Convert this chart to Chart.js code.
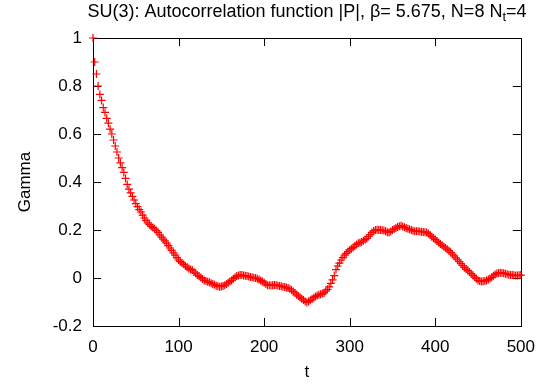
<!DOCTYPE html>
<html>
<head>
<meta charset="utf-8">
<script src="https://cdn.jsdelivr.net/npm/chart.js@4"></script>
<style>
  html, body { margin: 0; padding: 0; background: #fff; }
  #wrap { width: 546px; height: 385px; }
</style>
</head>
<body>
<div id="wrap"><canvas id="chart" width="546" height="385"></canvas></div>
<script>
// lag t (every 2nd value)
const tValues = [
  0, 2, 4, 6, 8, 10, 12, 14, 16, 18,
  20, 22, 24, 26, 28, 30, 32, 34, 36, 38,
  40, 42, 44, 46, 48, 50, 52, 54, 56, 58,
  60, 62, 64, 66, 68, 70, 72, 74, 76, 78,
  80, 82, 84, 86, 88, 90, 92, 94, 96, 98,
  100, 102, 104, 106, 108, 110, 112, 114, 116, 118,
  120, 122, 124, 126, 128, 130, 132, 134, 136, 138,
  140, 142, 144, 146, 148, 150, 152, 154, 156, 158,
  160, 162, 164, 166, 168, 170, 172, 174, 176, 178,
  180, 182, 184, 186, 188, 190, 192, 194, 196, 198,
  200, 202, 204, 206, 208, 210, 212, 214, 216, 218,
  220, 222, 224, 226, 228, 230, 232, 234, 236, 238,
  240, 242, 244, 246, 248, 250, 252, 254, 256, 258,
  260, 262, 264, 266, 268, 270, 272, 274, 276, 278,
  280, 282, 284, 286, 288, 290, 292, 294, 296, 298,
  300, 302, 304, 306, 308, 310, 312, 314, 316, 318,
  320, 322, 324, 326, 328, 330, 332, 334, 336, 338,
  340, 342, 344, 346, 348, 350, 352, 354, 356, 358,
  360, 362, 364, 366, 368, 370, 372, 374, 376, 378,
  380, 382, 384, 386, 388, 390, 392, 394, 396, 398,
  400, 402, 404, 406, 408, 410, 412, 414, 416, 418,
  420, 422, 424, 426, 428, 430, 432, 434, 436, 438,
  440, 442, 444, 446, 448, 450, 452, 454, 456, 458,
  460, 462, 464, 466, 468, 470, 472, 474, 476, 478,
  480, 482, 484, 486, 488, 490, 492, 494, 496, 498,
  500
];
const gamma = [
  1.00, 0.90, 0.85, 0.80, 0.765, 0.74, 0.71, 0.69, 0.665, 0.645,
  0.62, 0.60, 0.575, 0.55, 0.525, 0.50, 0.48, 0.46, 0.44, 0.415,
  0.39, 0.37, 0.355, 0.34, 0.325, 0.31, 0.297, 0.285, 0.275, 0.262,
  0.25, 0.24, 0.23, 0.222, 0.215, 0.21, 0.205, 0.198, 0.19, 0.18,
  0.17, 0.162, 0.155, 0.145, 0.135, 0.125, 0.115, 0.105, 0.095, 0.085,
  0.075, 0.068, 0.063, 0.057, 0.05, 0.045, 0.04, 0.035, 0.033, 0.025,
  0.02, 0.012, 0.007, 0.002, -0.004, -0.01, -0.013, -0.016, -0.018, -0.022,
  -0.025, -0.028, -0.032, -0.034, -0.036, -0.035, -0.033, -0.03, -0.025, -0.02,
  -0.015, -0.01, -0.003, 0.003, 0.008, 0.01, 0.013, 0.012, 0.01, 0.009,
  0.008, 0.006, 0.004, 0.003, 0.001, 0.0, -0.003, -0.006, -0.01, -0.015,
  -0.02, -0.025, -0.03, -0.03, -0.031, -0.03, -0.029, -0.03, -0.031, -0.033,
  -0.034, -0.036, -0.038, -0.04, -0.042, -0.045, -0.05, -0.056, -0.062, -0.07,
  -0.075, -0.08, -0.086, -0.092, -0.098, -0.102, -0.098, -0.093, -0.088, -0.082,
  -0.077, -0.073, -0.07, -0.068, -0.065, -0.062, -0.055, -0.047, -0.037, -0.022,
  -0.008, 0.01, 0.035, 0.05, 0.062, 0.075, 0.085, 0.095, 0.103, 0.11,
  0.117, 0.122, 0.127, 0.133, 0.14, 0.145, 0.147, 0.15, 0.155, 0.16,
  0.165, 0.173, 0.181, 0.19, 0.196, 0.20, 0.201, 0.20, 0.20, 0.199,
  0.198, 0.195, 0.191, 0.19, 0.194, 0.20, 0.204, 0.208, 0.212, 0.216,
  0.218, 0.215, 0.211, 0.208, 0.205, 0.203, 0.20, 0.197, 0.195, 0.195,
  0.195, 0.194, 0.193, 0.192, 0.191, 0.19, 0.185, 0.179, 0.172, 0.166,
  0.16, 0.154, 0.148, 0.142, 0.136, 0.13, 0.125, 0.12, 0.114, 0.107,
  0.10, 0.092, 0.084, 0.076, 0.068, 0.06, 0.052, 0.044, 0.037, 0.031,
  0.025, 0.018, 0.011, 0.004, -0.003, -0.01, -0.013, -0.015, -0.014, -0.012,
  -0.01, -0.006, -0.002, 0.003, 0.009, 0.015, 0.019, 0.021, 0.022, 0.021,
  0.02, 0.018, 0.016, 0.014, 0.013, 0.012, 0.011, 0.01, 0.01, 0.011,
  0.012
];
const xTicks = [0, 100, 200, 300, 400, 500];
const yTicks = [-0.2, 0, 0.2, 0.4, 0.6, 0.8, 1];

const FONT = 'Liberation Sans, Arial, sans-serif';
const FS = 17;

// gnuplot-like frame: box plus inward ticks on all four sides
const frame = {
  id: 'frame',
  beforeDatasetsDraw(chart) {
    const { ctx, chartArea: a, scales: { x, y } } = chart;
    ctx.save();
    ctx.strokeStyle = '#000';
    ctx.lineWidth = 1;
    ctx.beginPath();
    xTicks.forEach(v => {
      const px = Math.round(x.getPixelForValue(v)) + 0.5;
      ctx.moveTo(px, a.bottom); ctx.lineTo(px, a.bottom - 8);
      ctx.moveTo(px, a.top); ctx.lineTo(px, a.top + 8);
    });
    yTicks.forEach(v => {
      const py = Math.round(y.getPixelForValue(v)) + 0.5;
      ctx.moveTo(a.left, py); ctx.lineTo(a.left + 8, py);
      ctx.moveTo(a.right, py); ctx.lineTo(a.right - 8, py);
    });
    ctx.stroke();
    ctx.strokeRect(Math.round(a.left) + 0.5, Math.round(a.top) + 0.5,
                   Math.round(a.width), Math.round(a.height));
    ctx.restore();
  },
  afterDraw(chart) {
    // title with subscript t
    const { ctx } = chart;
    const main = 'SU(3): Autocorrelation function |P|, \u03b2= 5.675, N=8 N';
    const tail = '=4';
    const TS = 18;
    ctx.save();
    ctx.fillStyle = '#000';
    ctx.textBaseline = 'alphabetic';
    ctx.font = TS + 'px ' + FONT;
    const w1 = ctx.measureText(main).width;
    const w3 = ctx.measureText(tail).width;
    ctx.font = '13px ' + FONT;
    const w2 = ctx.measureText('t').width;
    const x0 = 307 - (w1 + w2 + w3) / 2;
    const base = 17;
    ctx.font = TS + 'px ' + FONT;
    ctx.fillText(main, x0, base);
    ctx.font = '13px ' + FONT;
    ctx.fillText('t', x0 + w1, base + 4);
    ctx.font = TS + 'px ' + FONT;
    ctx.fillText(tail, x0 + w1 + w2, base);
    ctx.restore();
  }
};

new Chart(document.getElementById('chart'), {
  type: 'scatter',
  data: {
    datasets: [{
      label: 'Gamma',
      data: tValues.map((t, i) => ({ x: t, y: gamma[i] })),
      showLine: false,
      pointStyle: 'cross',
      pointRadius: 4,
      pointBorderWidth: 1.2,
      borderColor: '#ff0000',
      backgroundColor: '#ff0000',
      clip: false
    }]
  },
  options: {
    responsive: false,
    animation: false,
    layout: { padding: { left: 0, right: 18, top: 38, bottom: 2 } },
    plugins: {
      legend: { display: false },
      title: { display: false },
      tooltip: { enabled: false }
    },
    scales: {
      x: {
        type: 'linear',
        min: 0, max: 500,
        afterFit(scale) { scale.height = 57; },
        ticks: {
          stepSize: 100,
          padding: 11,
          color: '#000',
          font: { family: FONT, size: FS }
        },
        grid: { display: false, drawTicks: false },
        border: { display: false },
        title: {
          display: true, text: 't', color: '#000',
          font: { family: FONT, size: FS },
          padding: { top: 0, bottom: 0 }
        }
      },
      y: {
        type: 'linear',
        min: -0.2, max: 1,
        afterFit(scale) { scale.width = 93; },
        ticks: {
          stepSize: 0.2,
          padding: 11,
          color: '#000',
          font: { family: FONT, size: FS },
          callback: v => String(Number(v.toFixed(1)))
        },
        grid: { display: false, drawTicks: false },
        border: { display: false },
        title: {
          display: true, text: 'Gamma', color: '#000',
          font: { family: FONT, size: FS },
          padding: { top: 15, bottom: 0 }
        }
      }
    }
  },
  plugins: [frame]
});
</script>
</body>
</html>
